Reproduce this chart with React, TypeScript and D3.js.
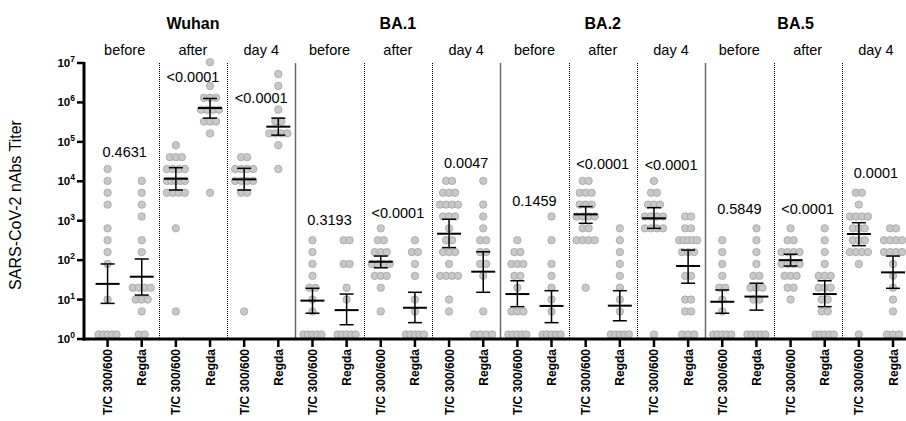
import React from 'react';
import * as d3 from 'd3';

const groups = ['Wuhan', 'BA.1', 'BA.2', 'BA.5'];
const timepoints = ['before', 'after', 'day 4'];
const treatments = ['T/C 300/600', 'Regda'];

// one p value per panel, and the titer level its label sits on
const pValues = ['0.4631', '<0.0001', '<0.0001', '0.3193', '<0.0001', '0.0047',
  '0.1459', '<0.0001', '<0.0001', '0.5849', '<0.0001', '0.0001'];
const pLabelAt = [41700, 3300000, 955000, 776, 1175, 21900, 2340, 20400, 19500, 1480, 1480, 12000];

// titers per column (panel order, T/C then Regda); 1.3 = below detection
const titers: number[][] = [
  [20480, 10240, 5120, 2560, 640, 320, 160, 80, 10, 1.3, 1.3, 1.3, 1.3, 1.3],
  [10240, 5120, 2560, 1280, 320, 160, 20, 20, 20, 20, 10, 10, 10, 5, 1.3, 1.3],
  [81920, 40960, 40960, 40960, 20480, 20480, 20480, 20480, 10240, 10240, 10240, 10240, 10240, 5120, 5120, 5120, 5120, 640, 5],
  [10485760, 2621440, 1310720, 1310720, 1310720, 655360, 655360, 655360, 655360, 327680, 327680, 327680, 163840, 5120],
  [40960, 40960, 20480, 20480, 20480, 20480, 10240, 10240, 10240, 10240, 5120, 5120, 5],
  [5242880, 2621440, 655360, 327680, 327680, 163840, 163840, 163840, 163840, 81920, 20480],
  [320, 160, 80, 40, 20, 20, 10, 5, 1.3, 1.3, 1.3, 1.3, 1.3],
  [320, 320, 80, 80, 20, 10, 1.3, 1.3, 1.3, 1.3, 1.3],
  [640, 320, 320, 160, 160, 160, 80, 80, 80, 80, 40, 40, 40, 20, 5],
  [320, 160, 160, 80, 40, 10, 5, 1.3, 1.3, 1.3, 1.3, 1.3],
  [10240, 10240, 5120, 5120, 5120, 2560, 2560, 2560, 2560, 1280, 1280, 1280, 640, 320, 320, 160, 160, 160, 80, 40, 40, 40, 40, 10, 5],
  [10240, 2560, 1280, 640, 320, 320, 160, 160, 80, 80, 40, 5, 1.3, 1.3, 1.3, 1.3],
  [320, 160, 160, 80, 80, 80, 40, 40, 20, 5, 5, 5, 1.3, 1.3, 1.3, 1.3, 1.3],
  [1280, 320, 80, 40, 20, 10, 5, 1.3, 1.3, 1.3, 1.3, 1.3],
  [10240, 10240, 5120, 5120, 5120, 2560, 2560, 2560, 1280, 1280, 1280, 1280, 640, 640, 320, 320, 320, 320, 20],
  [640, 320, 160, 80, 40, 20, 10, 5, 1.3, 1.3, 1.3, 1.3, 1.3],
  [10240, 5120, 5120, 2560, 2560, 2560, 1280, 1280, 1280, 1280, 640, 640, 640, 640, 1.3],
  [1280, 1280, 640, 640, 320, 320, 320, 320, 320, 160, 160, 160, 40, 40, 10, 10, 5, 5, 1.3, 1.3, 1.3],
  [320, 160, 80, 40, 20, 20, 10, 5, 1.3, 1.3, 1.3, 1.3, 1.3],
  [640, 320, 160, 80, 40, 40, 20, 20, 20, 10, 10, 1.3, 1.3, 1.3, 1.3, 1.3],
  [640, 320, 320, 160, 160, 160, 160, 80, 80, 80, 80, 40, 40, 40, 20, 20, 10],
  [640, 320, 160, 80, 40, 40, 40, 20, 20, 20, 10, 10, 5, 5, 1.3, 1.3, 1.3, 1.3, 1.3],
  [5120, 5120, 2560, 1280, 1280, 1280, 1280, 640, 640, 640, 320, 320, 320, 160, 160, 160, 160, 80, 1.3],
  [640, 640, 320, 320, 320, 320, 160, 160, 160, 160, 80, 40, 20, 10, 5, 1.3, 1.3, 1.3],
];

// geometric mean with 95% CI per column
const geoMean = [25, 38, 11600, 720000, 11200, 243000, 9.4, 5.4, 91, 6.2, 468, 51,
  13.8, 6.9, 1450, 7.0, 1150, 71, 8.8, 11.9, 100, 13.8, 460, 49];
const ciLow = [8, 13, 6000, 400000, 6000, 148000, 4.5, 2.3, 64, 2.6, 208, 15.3,
  6.6, 2.6, 860, 2.9, 640, 26, 4.5, 5.4, 71, 6.6, 233, 19.3];
const ciHigh = [80, 107, 22100, 1260000, 21300, 400000, 19.3, 13.8, 127, 15.3, 1090, 163,
  30, 16.8, 2280, 16.8, 2140, 180, 17.5, 26, 141, 30, 890, 127];

const yTicks = [0, 1, 2, 3, 4, 5, 6, 7];

const W = 906;
const H = 421;
const axisX = 84;
const top = 63;
const bottom = 339;
const font = 'Liberation Sans, Arial, Helvetica, sans-serif';

const panels = groups.flatMap((g) => timepoints.map((t) => `${g}|${t}`));
const x = d3.scaleBand().domain(panels).range([90.5, 90.5 + 68.3 * panels.length]);
const xi = d3.scalePoint().domain(treatments).range([0, x.bandwidth()]).padding(0.5);
const y = d3.scaleLog().domain([1, 1e7]).range([bottom, top]);

const spread = (vals: number[]) => {
  const counts = d3.rollup(vals, (v) => v.length, (d) => d);
  const seen = new Map<number, number>();
  return vals.map((v) => {
    const n = counts.get(v) as number;
    const i = seen.get(v) ?? 0;
    seen.set(v, i + 1);
    const step = n > 1 ? Math.min(6, 18 / (n - 1)) : 0;
    return { v, dx: (i - (n - 1) / 2) * step };
  });
};

const App = () => {
  const columns = panels.flatMap((p, pi) =>
    treatments.map((t, ti) => ({ panel: p, pi, t, idx: pi * 2 + ti, cx: (x(p) as number) + (xi(t) as number) }))
  );

  return (
    <svg width={W} height={H} style={{ position: 'absolute', left: 0, top: 0, background: '#fff' }} fontFamily={font}>
      {/* group titles */}
      {groups.map((g, gi) => {
        const start = x(panels[gi * 3]) as number;
        const end = (x(panels[gi * 3 + 2]) as number) + x.bandwidth();
        const cx = (start + Math.min(end, W - 20)) / 2;
        return (
          <text key={g} x={cx} y={29} textAnchor="middle" fontWeight="bold" fontSize={16}>{g}</text>
        );
      })}
      {panels.map((p) => (
        <text key={p} x={(x(p) as number) + x.bandwidth() / 2} y={55} textAnchor="middle" fontSize={14.5}>
          {p.split('|')[1]}
        </text>
      ))}

      {/* panel separators */}
      {panels.slice(1).map((p, i) => {
        const sx = Math.round(x(p) as number) + 0.5;
        const solid = (i + 1) % 3 === 0;
        return (
          <line key={p} x1={sx} x2={sx} y1={top} y2={bottom}
            stroke={solid ? '#6a6a6a' : '#000'} strokeWidth={solid ? 1.5 : 1}
            strokeDasharray={solid ? undefined : '1,1'} />
        );
      })}

      {/* points */}
      {columns.map((c) => (
        <g key={c.idx}>
          {spread(titers[c.idx]).map((d, k) => (
            <circle key={k} cx={c.cx + d.dx} cy={y(d.v)} r={3.7} fill="#c8c8c8" stroke="#a2a2a2" strokeWidth={0.8} />
          ))}
        </g>
      ))}

      {/* geometric mean and CI */}
      {columns.map((c) => (
        <g key={'m' + c.idx} stroke="#000">
          <line x1={c.cx} x2={c.cx} y1={y(ciLow[c.idx])} y2={y(ciHigh[c.idx])} strokeWidth={1.5} />
          <line x1={c.cx - 7} x2={c.cx + 7} y1={y(ciLow[c.idx])} y2={y(ciLow[c.idx])} strokeWidth={1.5} />
          <line x1={c.cx - 7} x2={c.cx + 7} y1={y(ciHigh[c.idx])} y2={y(ciHigh[c.idx])} strokeWidth={1.5} />
          <line x1={c.cx - 12} x2={c.cx + 12} y1={y(geoMean[c.idx])} y2={y(geoMean[c.idx])} strokeWidth={2} />
        </g>
      ))}

      {/* p values */}
      {panels.map((p, i) => (
        <text key={'p' + p} x={(x(p) as number) + x.bandwidth() / 2} y={y(pLabelAt[i])} textAnchor="middle" fontSize={14.5}>
          {pValues[i]}
        </text>
      ))}

      {/* y axis */}
      <line x1={axisX} x2={axisX} y1={top - 1} y2={bottom + 1.5} stroke="#000" strokeWidth={3} />
      {yTicks.map((e) => (
        <g key={e}>
          <line x1={axisX - 7} x2={axisX} y1={y(10 ** e)} y2={y(10 ** e)} stroke="#000" strokeWidth={2.5} />
          <text x={axisX - 9} y={y(10 ** e) + 4} textAnchor="end" fontWeight="bold" fontSize={11.5}>
            10<tspan fontSize={8.5} dy={-5}>{e}</tspan>
          </text>
        </g>
      ))}
      <text transform={`translate(21,${205}) rotate(-90)`} textAnchor="middle" fontSize={16}>SARS-CoV-2 nAbs Titer</text>

      {/* x axis */}
      <line x1={axisX - 1.5} x2={W} y1={bottom} y2={bottom} stroke="#000" strokeWidth={3} />
      {columns.map((c) => (
        <g key={'t' + c.idx}>
          <line x1={c.cx} x2={c.cx} y1={bottom} y2={bottom + 8} stroke="#000" strokeWidth={2.5} />
          <text transform={`translate(${c.cx + 4.5},${bottom + 10}) rotate(-90)`} textAnchor="end" fontWeight="bold" fontSize={12}>
            {c.t}
          </text>
        </g>
      ))}
    </svg>
  );
};

export default App;
